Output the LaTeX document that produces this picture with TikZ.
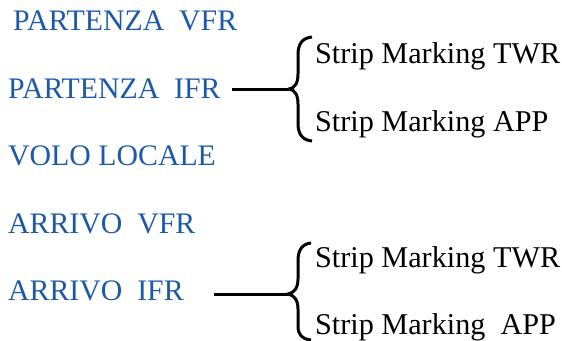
\documentclass[tikz,border=0pt]{standalone}
\usepackage{fontspec}
\setmainfont{Liberation Serif}
\definecolor{lblue}{HTML}{1C5AA8}
\begin{document}
\begin{tikzpicture}[x=1pt,y=-1pt,
  lbl/.style={anchor=base west,inner sep=0pt,text=lblue,font=\fontsize{29.8}{29.8}\selectfont},
  sub/.style={anchor=base west,inner sep=0pt,text=black,font=\fontsize{30.2}{30.2}\selectfont},
  conn/.style={line width=3pt,black},
  bracestyle/.style={line width=3pt,black,line cap=butt}]
\useasboundingbox (0,0) rectangle (562,340);
\node[lbl] (pvfr) at (13,30) {PARTENZA\ \ VFR};
\node[lbl] (pifr) at (8,98) {PARTENZA\ \ IFR};
\node[lbl] (volo) at (8,165) {VOLO LOCALE};
\node[lbl] (avfr) at (8,233) {ARRIVO\ \ VFR};
\node[lbl] (aifr) at (8,300) {ARRIVO\ \ IFR};
\node[sub] (twr1) at (315,63) {Strip Marking TWR};
\node[sub] (app1) at (315,131) {Strip Marking APP};
\node[sub] (twr2) at (315,267) {Strip Marking TWR};
\node[sub] (app2) at (315,334) {Strip Marking\ \ APP};
% braces
\coordinate (tip1) at (289,89);
\coordinate (tip2) at (288,294);
\draw[bracestyle] (312,37) .. controls (302,38) and (298,44) .. (298,55) -- (298,74)
  .. controls (298,83) and (295,88) .. (tip1)
  .. controls (295,90) and (298,95) .. (298,104) -- (298,123)
  .. controls (298,134) and (302,140) .. (312,141);
\draw[bracestyle] (311,243) .. controls (302,244) and (298,250) .. (298,261) -- (298,279)
  .. controls (298,288) and (294,293) .. (tip2)
  .. controls (294,295) and (298,300) .. (298,309) -- (298,326)
  .. controls (298,335) and (302,339) .. (311,340);
% connectors
\coordinate (s1) at (232,89);
\coordinate (s2) at (214,294);
\draw[conn] (s1) -- (tip1);
\draw[conn] (s2) -- (tip2);
\end{tikzpicture}
\end{document}
